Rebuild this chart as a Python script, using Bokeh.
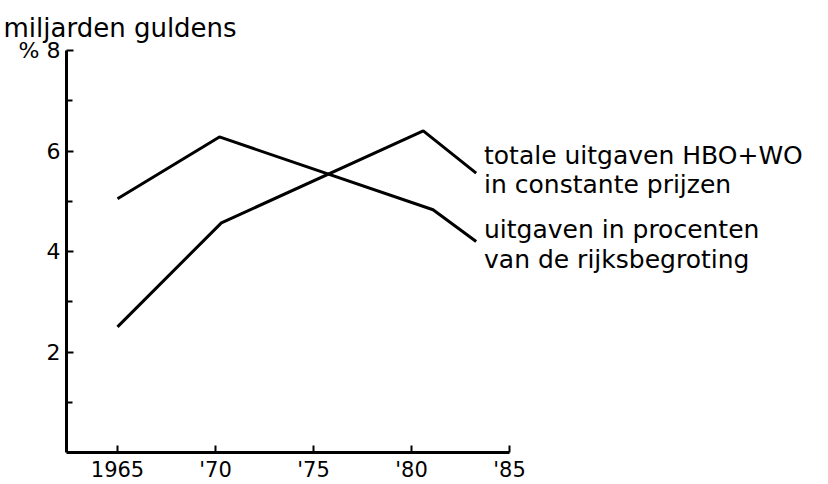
from bokeh.plotting import figure
from bokeh.models import FixedTicker, Range1d
from bokeh.core.properties import value
from bokeh.embed import file_html
from bokeh.resources import INLINE

# data
years_pct = [1965, 1970.2, 1981.1, 1983.3]
vals_pct = [5.05, 6.28, 4.83, 4.20]          # uitgaven in procenten van de rijksbegroting
years_tot = [1965, 1970.3, 1980.6, 1983.3]
vals_tot = [2.50, 4.57, 6.40, 5.56]          # totale uitgaven HBO+WO in constante prijzen

x_ticks = [1965, 1970, 1975, 1980, 1985]
x_tick_labels = ["1965", "'70", "'75", "'80", "'85"]
y_ticks = [2, 4, 6, 8]
y_tick_labels = ["2", "4", "6", "% 8"]
y_minor = [1, 3, 5, 7]

series_labels = [
    "totale uitgaven HBO+WO",
    "in constante prijzen",
    "uitgaven in procenten",
    "van de rijksbegroting",
]
label_x = [1983.7, 1983.7, 1983.7, 1983.7]
label_y = [5.92, 5.33, 4.44, 3.84]

FONT = "DejaVu Sans"
W, H = 828, 484
LEFT, TOP, BOTTOM = 66, 50, 30
PX_PER_YEAR = 19.6
X0 = 1965 - (117 - LEFT) / PX_PER_YEAR
X1 = X0 + (W - LEFT) / PX_PER_YEAR

p = figure(width=W, height=H, output_backend="svg", toolbar_location=None,
           x_range=Range1d(X0, X1), y_range=Range1d(0, 8),
           min_border_left=LEFT, min_border_right=0, min_border_top=TOP,
           min_border_bottom=BOTTOM)
p.outline_line_color = None
p.grid.visible = False
p.background_fill_color = "white"
p.border_fill_color = "white"

p.title.text = "miljarden guldens"
p.title.align = "left"
p.title.offset = -(LEFT - 3)
p.title.standoff = 15
p.title.text_font = FONT
p.title.text_font_size = "26px"
p.title.text_font_style = "normal"
p.title.text_color = "black"

for ax in (p.xaxis[0], p.yaxis[0]):
    ax.axis_line_width = 3
    ax.axis_line_color = "black"
    ax.major_tick_in = 7
    ax.major_tick_out = 0
    ax.major_tick_line_width = 2
    ax.major_tick_line_color = "black"
    ax.minor_tick_in = 6
    ax.minor_tick_out = 0
    ax.minor_tick_line_width = 2
    ax.minor_tick_line_color = "black"
    ax.major_label_text_font = FONT
    ax.major_label_text_color = "black"
    ax.major_label_text_font_style = "normal"

p.xaxis.ticker = FixedTicker(ticks=x_ticks, minor_ticks=[])
p.xaxis.major_label_overrides = {t: s for t, s in zip(x_ticks, x_tick_labels)}
p.xaxis.bounds = (X0, 1985)
p.xaxis.major_label_text_font_size = "21px"
p.xaxis.major_label_standoff = 5

p.yaxis.ticker = FixedTicker(ticks=y_ticks, minor_ticks=y_minor)
p.yaxis.major_label_overrides = {t: s for t, s in zip(y_ticks, y_tick_labels)}
p.yaxis.bounds = (0, 8)
p.yaxis.major_label_text_font_size = "22px"
p.yaxis.major_label_standoff = 6

p.line(years_pct, vals_pct, line_width=3, line_color="black")
p.line(years_tot, vals_tot, line_width=3, line_color="black")

p.text(x=label_x, y=label_y, text=series_labels, text_font=value(FONT),
       text_font_size="25px", text_align="left", text_baseline="middle",
       text_color="black")

open("out.html", "w").write(file_html(p, INLINE))
